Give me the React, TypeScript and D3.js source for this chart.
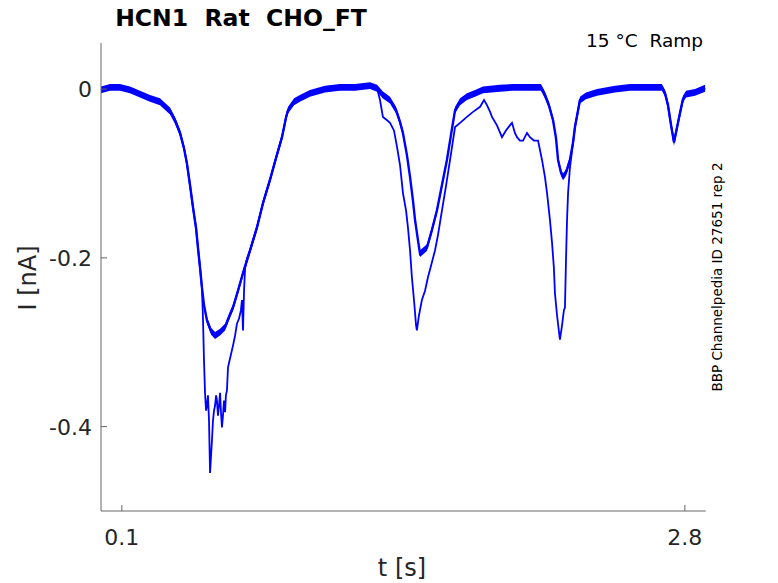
import * as d3 from "d3";

// trace A: the full sweep (t [s], I [nA])
const tA = [0.000, 0.043, 0.091, 0.139, 0.187, 0.235, 0.283, 0.331, 0.355, 0.379, 0.398, 0.412, 0.427, 0.441, 0.456, 0.465, 0.475, 0.484, 0.494, 0.508, 0.528, 0.547, 0.571, 0.595, 0.619, 0.633, 0.657, 0.681, 0.715, 0.748, 0.777, 0.810, 0.839, 0.868, 0.887, 0.897, 0.926, 0.954, 1.002, 1.074, 1.146, 1.218, 1.290, 1.324, 1.352, 1.386, 1.415, 1.434, 1.448, 1.467, 1.482, 1.496, 1.506, 1.520, 1.530, 1.544, 1.563, 1.587, 1.611, 1.635, 1.659, 1.678, 1.698, 1.722, 1.755, 1.794, 1.832, 1.913, 1.976, 2.057, 2.110, 2.129, 2.148, 2.168, 2.182, 2.192, 2.206, 2.216, 2.230, 2.249, 2.264, 2.273, 2.288, 2.297, 2.326, 2.379, 2.465, 2.537, 2.633, 2.690, 2.705, 2.719, 2.734, 2.748, 2.762, 2.777, 2.791, 2.806, 2.849, 2.897];
const iA = [-0.001, 0.002, 0.002, -0.001, -0.006, -0.011, -0.015, -0.026, -0.037, -0.052, -0.070, -0.088, -0.114, -0.140, -0.165, -0.188, -0.212, -0.235, -0.256, -0.274, -0.287, -0.292, -0.288, -0.282, -0.267, -0.259, -0.239, -0.218, -0.191, -0.164, -0.135, -0.108, -0.082, -0.057, -0.034, -0.025, -0.015, -0.011, -0.005, 0.000, 0.002, 0.002, 0.004, 0.001, -0.007, -0.013, -0.025, -0.039, -0.052, -0.078, -0.104, -0.132, -0.155, -0.179, -0.195, -0.192, -0.188, -0.167, -0.144, -0.114, -0.084, -0.055, -0.025, -0.015, -0.009, -0.005, -0.001, 0.001, 0.002, 0.002, 0.002, -0.007, -0.019, -0.037, -0.058, -0.084, -0.099, -0.104, -0.099, -0.084, -0.063, -0.045, -0.025, -0.013, -0.008, -0.004, 0.000, 0.002, 0.002, 0.002, -0.005, -0.019, -0.043, -0.063, -0.046, -0.028, -0.012, -0.006, -0.004, 0.001];

// trace B: where it leaves trace A
const tB1 = [0.489, 0.494, 0.499, 0.504, 0.508, 0.513, 0.518, 0.523, 0.528, 0.532, 0.537, 0.542, 0.547, 0.552, 0.556, 0.561, 0.566, 0.571, 0.575, 0.580, 0.585, 0.590, 0.595, 0.599, 0.604, 0.609, 0.619, 0.633, 0.643, 0.652, 0.662, 0.671, 0.676, 0.681, 0.686, 0.691, 0.700];
const iB1 = [-0.271, -0.322, -0.361, -0.381, -0.375, -0.363, -0.393, -0.455, -0.434, -0.417, -0.393, -0.381, -0.375, -0.363, -0.369, -0.387, -0.375, -0.360, -0.381, -0.401, -0.387, -0.369, -0.383, -0.363, -0.357, -0.330, -0.319, -0.304, -0.292, -0.278, -0.272, -0.262, -0.250, -0.286, -0.239, -0.212, -0.201];
const tB2 = [1.338, 1.352, 1.372, 1.386, 1.405, 1.420, 1.434, 1.448, 1.463, 1.472, 1.482, 1.491, 1.501, 1.511, 1.515, 1.525, 1.539, 1.554, 1.568, 1.583, 1.602, 1.616, 1.635, 1.655, 1.674, 1.688, 1.698, 1.722, 1.755, 1.784, 1.818, 1.837, 1.851, 1.866, 1.875, 1.899, 1.923, 1.942, 1.961, 1.971, 1.985, 1.995, 2.009, 2.024, 2.043, 2.057, 2.076, 2.096, 2.115, 2.129, 2.139, 2.153, 2.163, 2.172, 2.177, 2.187, 2.196, 2.201, 2.211, 2.220, 2.225, 2.230, 2.235, 2.240, 2.249];
const iB2 = [-0.013, -0.033, -0.037, -0.040, -0.049, -0.069, -0.090, -0.123, -0.144, -0.164, -0.191, -0.223, -0.250, -0.280, -0.286, -0.268, -0.250, -0.239, -0.223, -0.209, -0.191, -0.173, -0.144, -0.114, -0.084, -0.061, -0.045, -0.040, -0.033, -0.027, -0.021, -0.013, -0.019, -0.027, -0.033, -0.043, -0.057, -0.049, -0.043, -0.040, -0.052, -0.057, -0.061, -0.061, -0.052, -0.057, -0.061, -0.061, -0.084, -0.104, -0.123, -0.155, -0.182, -0.212, -0.242, -0.268, -0.287, -0.297, -0.280, -0.262, -0.259, -0.203, -0.155, -0.123, -0.093];

const xTicks = [0.1, 2.8];
const yTicks = [0, -0.2, -0.4];

type P = [number, number];
const zip = (t: number[], v: number[]): P[] => t.map((d, i) => [d, v[i]]);

export default function App() {
  const W = 778, H = 583;
  const x = d3.scaleLinear().domain([0, 2.9]).range([101, 705.7]);
  const y = d3.scaleLinear().domain([-0.5, 0.0546]).range([511, 43]);

  const a = zip(tA, iA);
  // B shares A everywhere outside its two excursions
  const b: P[] = [
    ...a.filter((p) => p[0] < 0.489),
    ...zip(tB1, iB1),
    ...a.filter((p) => p[0] >= 0.715 && p[0] <= 1.324),
    ...zip(tB2, iB2),
    ...a.filter((p) => p[0] >= 2.264),
  ];

  const line = d3.line<P>().x((p) => x(p[0])).y((p) => y(p[1]));
  // noise band of the recording, a few px either side
  const band = d3.area<P>().x((p) => x(p[0])).y0((p) => y(p[1]) - 3.4).y1((p) => y(p[1]) + 3.4);

  const txt = "#262626";
  const font = "DejaVu Sans, sans-serif";

  return (
    <svg width={W} height={H} style={{ position: "absolute", left: 0, top: 0, background: "#fff" }}>
      {/* traces */}
      <path d={band(a) ?? ""} fill="#0000ff" stroke="none" />
      <path d={line(a) ?? ""} fill="none" stroke="#0000ff" strokeWidth={2.4} />
      <path d={line(b) ?? ""} fill="none" stroke="#0000ff" strokeWidth={1.8} />

      {/* axes */}
      <line x1={101} x2={101} y1={43} y2={511} stroke="#666" />
      <line x1={101} x2={705.7} y1={511} y2={511} stroke="#666" />
      {yTicks.map((t) => (
        <g key={`y${t}`}>
          <line x1={101} x2={107} y1={y(t)} y2={y(t)} stroke="#666" />
          <text x={92} y={y(t) + 8} textAnchor="end" fontSize={22} fontFamily={font} fill={txt}>{t === 0 ? "0" : t.toFixed(1)}</text>
        </g>
      ))}
      {xTicks.map((t) => (
        <g key={`x${t}`}>
          <line x1={x(t)} x2={x(t)} y1={511} y2={505} stroke="#666" />
          <text x={x(t)} y={545} textAnchor="middle" fontSize={22} fontFamily={font} fill={txt}>{t.toFixed(1)}</text>
        </g>
      ))}

      {/* labels */}
      <text x={402} y={576} textAnchor="middle" fontSize={24} fontFamily={font} fill={txt}>t [s]</text>
      <text transform="translate(36,278) rotate(-90)" textAnchor="middle" fontSize={24} fontFamily={font} fill={txt}>I [nA]</text>
      <text x={241} y={26} textAnchor="middle" fontSize={23.5} fontWeight="bold" fontFamily={font} fill="#000" style={{ whiteSpace: "pre" }}>HCN1  Rat  CHO_FT</text>
      <text x={703} y={47} textAnchor="end" fontSize={18.5} fontFamily={font} fill="#000" style={{ whiteSpace: "pre" }}>15 °C  Ramp</text>
      <text transform="translate(722,277) rotate(-90)" textAnchor="middle" fontSize={13.5} fontFamily={font} fill="#000">BBP Channelpedia ID 27651 rep 2</text>
    </svg>
  );
}
